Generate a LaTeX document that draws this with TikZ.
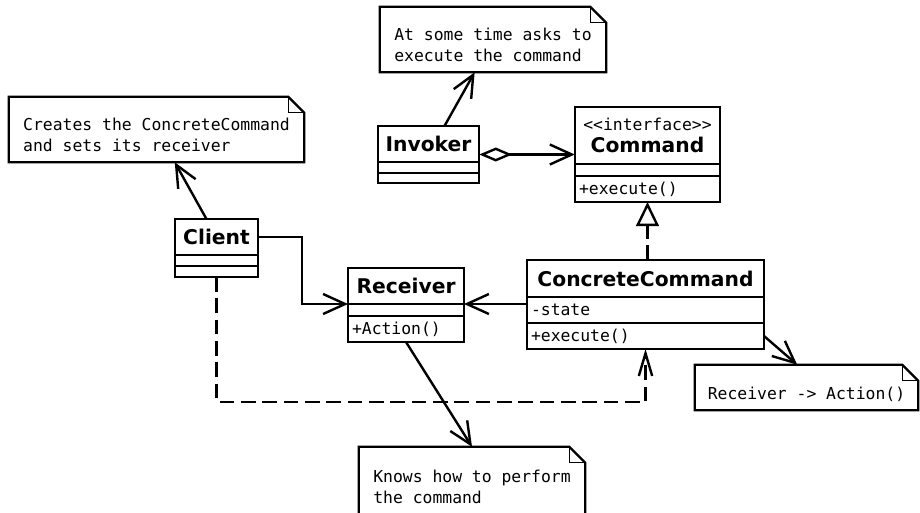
\documentclass[tikz,border=0pt]{standalone}
\usepackage{fontspec}
\newfontfamily\umlsans{DejaVu Sans}
\newfontfamily\umlmono{DejaVu Sans Mono}[Ligatures=TeXOff]
\usetikzlibrary{arrows.meta,positioning,fit}
\def\notefold#1{\draw[notelines] (#1.north west) -- ([xshift=-12pt]#1.north east) -- ([yshift=-12pt]#1.north east) -- (#1.south east) -- (#1.south west) -- cycle; \draw[line width=0.8pt] ([xshift=-12pt]#1.north east) |- ([yshift=-12pt]#1.north east);}
\newcommand\notelines[1]{\raisebox{-5.5pt}[\height][\depth]{\begin{tabular}{@{}l@{}}#1\end{tabular}}}
\tikzset{
	classname/.style={draw, line width=1.8pt, outer sep=0pt, inner sep=2pt, font=\umlsans\bfseries\fontsize{15.2}{17}\selectfont},
	compart/.style={draw, line width=1.8pt, outer sep=0pt, inner xsep=3pt, inner ysep=1pt, align=left, font=\umlmono\fontsize{12.3}{15}\selectfont},
	note/.style={inner sep=0pt, font=\umlmono\fontsize{12.3}{15.8}\selectfont},
	notelines/.style={line width=1.8pt, line join=miter},
	assoc/.style={line width=1.8pt, -{Straight Barb[length=16.5pt,width=15pt]}},
	aggr/.style={line width=1.8pt, {Diamond[open,length=24.75pt,width=10.5pt]}-{Straight Barb[length=16.5pt,width=15pt]}},
	realize/.style={line width=1.8pt, dash pattern=on 11pt off 5pt, -{Triangle[fill=white,length=18pt,width=17pt]}},
	depend/.style={line width=1.8pt, dash pattern=on 11pt off 5pt, -{Straight Barb[length=17pt,width=10pt]}}
}
\begin{document}
\begin{tikzpicture}[x=0.75pt,y=-0.75pt]
			%%%%% START %%%%%
			\useasboundingbox (0,0) rectangle (920,512);
			
			% notes
			\node[note, minimum width=169.5pt, minimum height=48.75pt] (asknote) at (493,39.5) {\notelines{At some time asks to\\execute the command}};
			\notefold{asknote}
			\node[note, minimum width=221.25pt, minimum height=48.75pt] (createnote) at (156.5,129.5) {\notelines{Creates the ConcreteCommand\\and sets its receiver}};
			\notefold{createnote}
			\node[note, minimum width=167.25pt, minimum height=33.75pt] (actionnote) at (806.5,387.5) {\notelines{Receiver -> Action()}};
			\notefold{actionnote}
			\node[note, minimum width=169.5pt, minimum height=51pt] (knownote) at (472,481) {\notelines{Knows how to perform\\the command}};
			\notefold{knownote}
			
			% classes
			\node[classname, minimum width=75.75pt, minimum height=27pt] (invoker) at (428.5,144) {Invoker};
			\node[compart, text width=69.75pt, minimum height=8.25pt, below=0pt of invoker] (invoker-attr) {};
			\node[compart, text width=69.75pt, minimum height=7.5pt, below=0pt of invoker-attr] (invoker-ops) {};
			\node[fit=(invoker)(invoker-ops), inner sep=0pt] (invoker-box) {};
			
			\node[classname, minimum width=108.75pt, minimum height=42.75pt, align=center] (command) at (647.5,135.5) {{\umlmono\mdseries\fontsize{12.3}{17}\selectfont <<interface>>}\\Command};
			\node[compart, text width=102.75pt, minimum height=9pt, below=0pt of command] (command-attr) {};
			\node[compart, text width=102.75pt, minimum height=19.5pt, below=0pt of command-attr] (command-ops) {+execute()};
			\node[fit=(command)(command-ops), inner sep=0pt] (command-box) {};
			
			\node[classname, minimum width=62.25pt, minimum height=27pt] (client) at (216.5,237) {Client};
			\node[compart, text width=56.25pt, minimum height=8.25pt, below=0pt of client] (client-attr) {};
			\node[compart, text width=56.25pt, minimum height=8.25pt, below=0pt of client-attr] (client-ops) {};
			
			\node[classname, minimum width=87pt, minimum height=27pt] (receiver) at (406,286) {Receiver};
			\node[compart, text width=81pt, minimum height=9pt, below=0pt of receiver] (receiver-attr) {};
			\node[compart, text width=81pt, minimum height=19.5pt, below=0pt of receiver-attr] (receiver-ops) {+Action()};
			
			\node[classname, minimum width=177.75pt, minimum height=27.75pt] (concrete) at (645.5,278.5) {ConcreteCommand};
			\node[compart, text width=171.75pt, minimum height=19.5pt, below=0pt of concrete] (concrete-attr) {-state};
			\node[compart, text width=171.75pt, minimum height=19.5pt, below=0pt of concrete-attr] (concrete-ops) {+execute()};
			
			% connectors
			\draw[assoc] (invoker-box) -- (asknote);
			\draw[assoc] (client) -- (createnote);
			\draw[aggr] (invoker-box) -- (command-box);
			\draw[assoc] (client.east) -- ++(44,0) |- (receiver.south west);
			\draw[assoc] (concrete-attr.west |- receiver.south) -- (receiver.south east);
			\draw[realize] (command-ops.south |- concrete.north) -- (command-ops.south);
			\draw[depend] (client-ops.south) -- ++(0,125) -| (concrete-ops.south);
			\draw[assoc] (concrete-ops.east) -- ([xshift=-7pt]actionnote.north);
			\draw[assoc] (receiver-ops.south) -- (knownote.north);
			
			%%%%% END %%%%%
\end{tikzpicture}
\end{document}
